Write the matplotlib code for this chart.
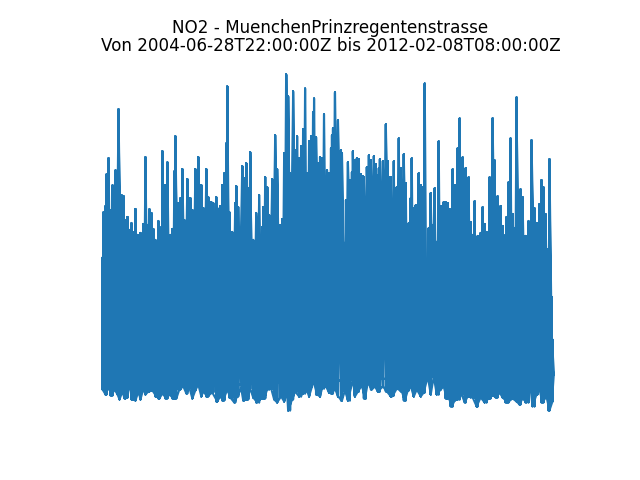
import matplotlib
matplotlib.use("Agg")
import matplotlib.pyplot as plt
import numpy as np

plt.rcParams["text.hinting"] = "auto"

# NO2 readings: upper peaks and lower dips along the time axis
peak_t = [0, 1, 3, 4, 6, 8, 10, 11, 13, 16, 19, 21, 23, 25, 27, 29, 30, 31, 33, 35, 38, 41, 43, 45, 47, 49, 51, 53, 54, 56,
          57, 59, 60, 63, 65, 68, 70, 72, 73, 76, 78, 80, 82, 85, 88, 90, 93, 96, 99, 101, 104, 106, 109, 111, 114, 115, 118, 120, 122, 124,
          125, 127, 129, 130, 133, 134, 136, 140, 142, 144, 146, 148, 151, 154, 157, 160, 161, 163, 165, 167, 170, 173, 175, 178, 180, 182, 184, 186, 188, 191,
          193, 195, 197, 199, 201, 203, 205, 207, 209, 211, 212, 214, 216, 218, 220, 222, 225, 227, 229, 230, 231, 233, 234, 236, 239, 240, 242, 244, 246, 248,
          250, 251, 253, 255, 257, 259, 261, 262, 264, 265, 267, 269, 272, 274, 276, 277, 278, 281, 284, 286, 287, 289, 290, 292, 294, 295, 297, 299, 302, 304,
          306, 307, 309, 310, 312, 314, 315, 317, 319, 321, 323, 325, 327, 329, 331, 333, 335, 337, 339, 341, 342, 344, 345, 346, 348, 349, 351, 353, 355, 356,
          358, 360, 361, 364, 366, 367, 369, 371, 372, 373, 375, 376, 379, 381, 383, 385, 386, 388, 389, 391, 393, 394, 396, 399, 401, 402, 404, 405, 407, 409,
          411, 413, 415, 418, 419, 421, 423, 424, 427, 429, 430, 433, 435, 436, 438, 440, 442, 444, 446, 447, 448, 450, 451, 452]
peak_no2 = [153, 199, 205, 237, 253, 201, 226, 188, 241, 302, 216, 215, 191, 194, 181, 188, 179, 154, 202, 176, 178, 187, 254, 186, 202, 198, 182, 171, 168, 190,
            168, 184, 260, 226, 249, 176, 182, 240, 275, 208, 213, 242, 191, 232, 213, 201, 242, 254, 226, 203, 242, 214, 209, 208, 214, 203, 205, 226, 238, 268,
            325, 199, 178, 179, 208, 225, 204, 245, 233, 248, 223, 259, 171, 198, 216, 184, 204, 234, 224, 196, 232, 276, 242, 186, 192, 258, 337, 315, 238, 320,
            261, 275, 253, 265, 282, 323, 238, 270, 275, 299, 313, 274, 248, 254, 253, 297, 241, 238, 263, 276, 283, 319, 260, 291, 261, 258, 168, 211, 249, 231,
            239, 260, 251, 253, 252, 237, 235, 234, 168, 244, 256, 251, 255, 247, 236, 243, 252, 250, 287, 250, 234, 234, 193, 250, 213, 224, 273, 243, 257, 228,
            181, 188, 213, 253, 203, 206, 199, 238, 226, 224, 328, 148, 183, 218, 186, 223, 169, 270, 205, 194, 209, 209, 199, 208, 202, 186, 242, 226, 226, 263,
            293, 234, 254, 243, 210, 234, 189, 176, 165, 210, 171, 175, 178, 204, 187, 179, 151, 234, 189, 293, 251, 165, 215, 205, 185, 176, 169, 194, 229, 273,
            197, 183, 314, 194, 222, 214, 174, 175, 190, 169, 271, 203, 188, 133, 207, 231, 224, 197, 143, 162, 252, 114, 71, 36]

dip_t = [0, 3, 6, 9, 12, 15, 17, 20, 22, 25, 27, 30, 33, 36, 38, 41, 43, 46, 50, 54, 57, 60, 64, 67, 71, 74, 77, 81, 84, 87,
         90, 93, 96, 99, 101, 105, 110, 115, 118, 121, 125, 128, 132, 135, 139, 141, 145, 148, 151, 155, 159, 162, 165, 169, 172, 175, 179, 182, 185, 186,
         190, 193, 197, 201, 205, 207, 210, 211, 215, 218, 220, 224, 227, 230, 233, 236, 240, 243, 246, 251, 253, 256, 260, 263, 266, 270, 273, 276, 281, 285,
         289, 291, 295, 300, 303, 306, 309, 312, 315, 319, 322, 326, 329, 332, 335, 339, 342, 345, 347, 350, 353, 356, 360, 363, 366, 371, 375, 379, 383, 387,
         391, 395, 398, 401, 406, 411, 415, 418, 421, 425, 429, 431, 435, 438, 441, 445, 448, 451, 452]
dip_no2 = [21, 16, 24, 15, 21, 16, 11, 19, 12, 13, 27, 11, 10, 19, 11, 22, 16, 19, 20, 14, 12, 17, 12, 16, 12, 12, 21, 24, 17, 23,
           12, 20, 26, 14, 19, 14, 18, 9, 14, 10, 21, 13, 8, 14, 22, 10, 11, 22, 13, 8, 12, 12, 21, 22, 11, 8, 14, 9, 18, 0,
           11, 19, 14, 17, 20, 14, 24, 32, 16, 14, 22, 24, 18, 17, 22, 14, 10, 20, 10, 31, 14, 19, 25, 12, 28, 21, 24, 19, 24, 19,
           14, 15, 22, 19, 10, 20, 24, 14, 21, 14, 18, 34, 16, 34, 16, 21, 24, 12, 13, 4, 10, 11, 16, 8, 14, 13, 4, 13, 8, 12,
           15, 13, 18, 13, 8, 12, 9, 6, 12, 8, 23, 4, 16, 21, 8, 14, 0, 9, 38]

peak_t = np.array(peak_t)
peak_no2 = np.array(peak_no2)
dip_t = np.array(dip_t)
dip_no2 = np.array(dip_no2)

# each peak drops to the dip closest in time, so the line swings up and down
nearest = [np.argmin(np.abs(dip_t - t)) for t in peak_t]
low = dip_no2[nearest]
forward = np.column_stack([peak_no2, low]).ravel()
backward = np.column_stack([peak_no2[::-1], low[::-1]]).ravel()

# same for every dip, going up to the peak closest in time
nearest_up = [np.argmin(np.abs(peak_t - t)) for t in dip_t]
dip_swing_t = np.column_stack([dip_t, peak_t[nearest_up]]).ravel()
dip_swing = np.column_stack([dip_no2, peak_no2[nearest_up]]).ravel()

# forwards, back again, along the dips, and once more through the dip swings
times = np.concatenate([np.repeat(peak_t, 2), np.repeat(peak_t[::-1], 2), dip_t, dip_swing_t])
values = np.concatenate([forward, backward, dip_no2, dip_swing])

fig, ax = plt.subplots(figsize=(6.4, 4.8))
ax.plot(times, values)
ax.set_title("NO2 - MuenchenPrinzregentenstrasse\nVon 2004-06-28T22:00:00Z bis 2012-02-08T08:00:00Z",
             fontsize=12.1, linespacing=0.95, x=0.505, pad=5)
ax.axis("off")
fig.savefig("out.png", dpi=100)
